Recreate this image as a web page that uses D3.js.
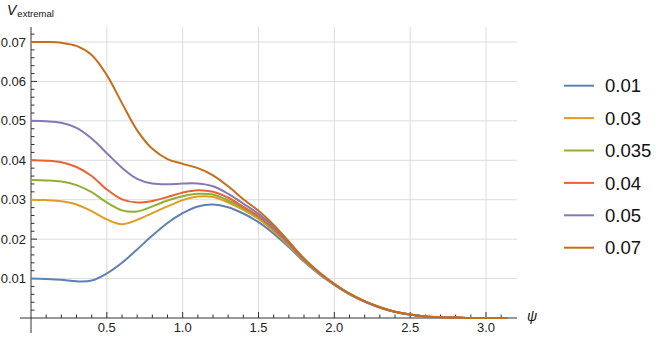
<!DOCTYPE html>
<html>
<head>
<meta charset="utf-8">
<script src="https://d3js.org/d3.v7.min.js"></script>
<style>
	body { margin: 0; background: #fff; }
	svg { font-family: "Liberation Sans", Arial, sans-serif; }
	.grid line { stroke: #dcdcdc; stroke-width: 1; }
	.axis line, .axis path { stroke: #333; }
	.tick-label { font-size: 13px; fill: #222; }
	.legend text { font-size: 18.5px; fill: #111; }
</style>
<script>
// sample positions (psi) shared by every curve
var psi = [0, 0.1, 0.2, 0.3, 0.4, 0.5, 0.6, 0.7, 0.8, 0.9, 1.0,
	1.1, 1.2, 1.3, 1.4, 1.5, 1.6, 1.7, 1.8, 1.9, 2.0,
	2.1, 2.2, 2.3, 2.4, 2.5, 2.6, 2.7, 2.8, 2.9, 3.0, 3.1, 3.1416];

var labels = ["0.01", "0.03", "0.035", "0.04", "0.05", "0.07"];
var colors = ["#5E81B5", "#E19C24", "#8FB032", "#EB6235", "#8778B3", "#C56E1A"];

var v001 = [0.0100, 0.0099, 0.0097, 0.0093, 0.0095, 0.0113, 0.0140, 0.0174, 0.0209, 0.0241, 0.0266,
	0.0283, 0.0288, 0.0281, 0.0265, 0.0243, 0.0214, 0.0180, 0.0143, 0.0111, 0.0084,
	0.0060, 0.0041, 0.0026, 0.0015, 0.0008, 0.0004, 0.0002, 0.0001, 0, 0, 0, 0];
var v003 = [0.0300, 0.0299, 0.0296, 0.0288, 0.0271, 0.0250, 0.0238, 0.0249, 0.0266, 0.0283, 0.0299,
	0.0308, 0.0307, 0.0293, 0.0274, 0.0251, 0.0220, 0.0184, 0.0146, 0.0113, 0.0085,
	0.0061, 0.0042, 0.0027, 0.0016, 0.0009, 0.0004, 0.0002, 0.0001, 0, 0, 0, 0];
var v0035 = [0.0350, 0.0349, 0.0346, 0.0337, 0.0319, 0.0293, 0.0273, 0.0270, 0.0283, 0.0298, 0.0309,
	0.0315, 0.0313, 0.0298, 0.0278, 0.0255, 0.0223, 0.0186, 0.0147, 0.0113, 0.0085,
	0.0061, 0.0042, 0.0027, 0.0016, 0.0009, 0.0004, 0.0002, 0.0001, 0, 0, 0, 0];
var v004 = [0.0400, 0.0399, 0.0395, 0.0383, 0.0360, 0.0326, 0.0301, 0.0293, 0.0297, 0.0307, 0.0318,
	0.0324, 0.0320, 0.0305, 0.0282, 0.0258, 0.0226, 0.0188, 0.0148, 0.0114, 0.0085,
	0.0061, 0.0042, 0.0027, 0.0016, 0.0009, 0.0004, 0.0002, 0.0001, 0, 0, 0, 0];
var v005 = [0.0500, 0.0499, 0.0495, 0.0482, 0.0455, 0.0418, 0.0381, 0.0353, 0.0341, 0.0339, 0.0341,
	0.0341, 0.0334, 0.0315, 0.0290, 0.0264, 0.0231, 0.0191, 0.0150, 0.0115, 0.0086,
	0.0062, 0.0042, 0.0027, 0.0016, 0.0009, 0.0004, 0.0002, 0.0001, 0, 0, 0, 0];
var v007 = [0.0700, 0.0700, 0.0698, 0.0690, 0.0667, 0.0616, 0.0545, 0.0476, 0.0429, 0.0403, 0.0391,
	0.0380, 0.0362, 0.0334, 0.0301, 0.0272, 0.0236, 0.0194, 0.0151, 0.0116, 0.0087,
	0.0062, 0.0043, 0.0028, 0.0016, 0.0009, 0.0004, 0.0002, 0.0001, 0, 0, 0, 0];

var series = [v001, v003, v0035, v004, v005, v007];

var xMajor = [0.5, 1.0, 1.5, 2.0, 2.5, 3.0];
var yMajor = [0.01, 0.02, 0.03, 0.04, 0.05, 0.06, 0.07];

document.addEventListener("DOMContentLoaded", function() {
	var svg = d3.select("svg");

	var x = d3.scaleLinear().domain([0, 3]).range([31, 486]);
	var y = d3.scaleLinear().domain([0, 0.07]).range([318, 42]);
	var top = 27, xEnd = 517;

	// grid lines
	var grid = svg.append("g").attr("class", "grid");
	grid.selectAll(".gv").data(xMajor).enter().append("line")
		.attr("x1", function(d) { return x(d); }).attr("x2", function(d) { return x(d); })
		.attr("y1", top).attr("y2", y(0));
	grid.selectAll(".gh").data(yMajor).enter().append("line")
		.attr("x1", x(0)).attr("x2", xEnd)
		.attr("y1", function(d) { return y(d); }).attr("y2", function(d) { return y(d); });

	// axes, ticks pointing inwards like Mathematica
	var xMinor = d3.range(1, 32).map(function(i) { return i / 10; }).filter(function(d) { return x(d) < xEnd - 2; });
	var yMinor = d3.range(1, 37).map(function(i) { return i * 0.002; });

	var ax = svg.append("g").attr("class", "axis");
	ax.append("line").attr("x1", 20).attr("x2", xEnd).attr("y1", y(0)).attr("y2", y(0));
	ax.append("line").attr("x1", x(0)).attr("x2", x(0)).attr("y1", top).attr("y2", 333);

	ax.selectAll(".xm").data(xMinor).enter().append("line")
		.attr("x1", function(d) { return x(d); }).attr("x2", function(d) { return x(d); })
		.attr("y1", y(0)).attr("y2", function(d) {
			return Math.abs(d * 2 - Math.round(d * 2)) < 1e-6 ? y(0) - 6 : y(0) - 3.5;
		});
	ax.selectAll(".ym").data(yMinor).enter().append("line")
		.attr("y1", function(d) { return y(d); }).attr("y2", function(d) { return y(d); })
		.attr("x1", x(0)).attr("x2", function(d) {
			return Math.abs(d * 100 - Math.round(d * 100)) < 1e-6 ? x(0) + 6 : x(0) + 3.5;
		});

	svg.selectAll(".xl").data(xMajor).enter().append("text")
		.attr("class", "tick-label")
		.attr("x", function(d) { return x(d); })
		.attr("y", 332)
		.attr("text-anchor", "middle")
		.text(function(d) { return d.toFixed(1); });

	svg.selectAll(".yl").data(yMajor).enter().append("text")
		.attr("class", "tick-label")
		.attr("x", 26)
		.attr("y", function(d) { return y(d) + 4.6; })
		.attr("text-anchor", "end")
		.text(function(d) { return d.toFixed(2); });

	// axis labels
	var vl = svg.append("text").attr("x", 7).attr("y", 15).attr("fill", "#111");
	vl.append("tspan").attr("font-style", "italic").attr("font-size", "14px").text("V");
	vl.append("tspan").attr("font-size", "9.5px").attr("dy", 2).attr("dx", 1).text("extremal");

	svg.append("text").attr("x", 527).attr("y", 321)
		.attr("font-style", "italic").attr("font-size", "14px").attr("fill", "#111")
		.text("ψ");

	// curves
	var line = d3.line()
		.x(function(d, i) { return x(psi[i]); })
		.y(function(d) { return y(d); })
		.curve(d3.curveCatmullRom.alpha(0.5));

	svg.append("g").selectAll("path").data(series).enter().append("path")
		.attr("d", line)
		.attr("fill", "none")
		.attr("stroke", function(d, i) { return colors[i]; })
		.attr("stroke-width", 2);

	// legend
	var lg = svg.append("g").attr("class", "legend");
	var row = lg.selectAll("g").data(labels).enter().append("g")
		.attr("transform", function(d, i) { return "translate(0," + (85.7 + i * 32.4) + ")"; });
	row.append("line").attr("x1", 564).attr("x2", 594)
		.attr("stroke", function(d, i) { return colors[i]; }).attr("stroke-width", 2);
	row.append("text").attr("x", 605).attr("y", 6.6).text(function(d) { return d; });
});
</script>
</head>
<body>
<svg width="665" height="338"></svg>
</body>
</html>
